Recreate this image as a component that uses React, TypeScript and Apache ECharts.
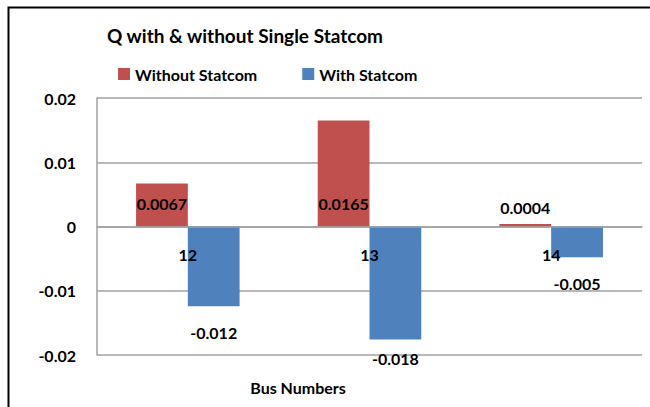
import React, { useEffect, useRef } from "react";
import * as echarts from "echarts";

const categories = ["12", "13", "14"];
const withoutStatcom = [0.0067, 0.0165, 0.0004];
const withStatcom = [-0.0124, -0.0176, -0.0048];
const withoutLabels = ["0.0067", "0.0165", "0.0004"];
const withLabels = ["-0.012", "-0.018", "-0.005"];
const seriesNames = ["Without Statcom", "With Statcom"];
const titleText = "Q with & without Single Statcom";
const xAxisTitle = "Bus Numbers";

const FONT = "Lato, 'Open Sans', sans-serif";

export default function App() {
  const ref = useRef<HTMLDivElement>(null);
  useEffect(() => {
    if (!ref.current) return;
    const chart = echarts.init(ref.current, null, { renderer: "svg" });
    const redData = withoutStatcom.map((v, i) => ({
      value: v,
      label:
        i === 2
          ? { position: "top", distance: 8, formatter: withoutLabels[i] }
          : { position: "insideBottom", distance: 15, formatter: withoutLabels[i] },
    }));
    const blueData = withStatcom.map((v, i) => ({
      value: v,
      label: { position: "bottom", distance: i === 1 ? 11 : 18, formatter: withLabels[i] },
    }));
    chart.setOption({
      animation: false,
      backgroundColor: "#ffffff",
      textStyle: { fontFamily: FONT },
      grid: { left: 97, right: 8, top: 98, bottom: 52, containLabel: false },
      legend: {
        left: 118,
        top: 66,
        padding: 0,
        itemWidth: 12,
        itemHeight: 12,
        itemGap: 45,
        icon: "rect",
        textStyle: { fontFamily: FONT, fontSize: 16, fontWeight: "bold", color: "#000" },
        data: seriesNames,
      },
      xAxis: {
        type: "category",
        data: categories,
        offset: -128.5,
        z: 5,
        axisLine: { onZero: false, lineStyle: { color: "#a0a0a0", width: 1.5 } },
        axisTick: { show: false },
        axisLabel: {
          margin: 20,
          fontFamily: FONT,
          fontSize: 16,
          fontWeight: "bold",
          color: "#000",
        },
      },
      yAxis: {
        type: "value",
        min: -0.02,
        max: 0.02,
        interval: 0.01,
        axisLine: { show: true, lineStyle: { color: "#a0a0a0", width: 1.5 } },
        axisTick: { show: false },
        splitLine: { lineStyle: { color: "#a0a0a0", width: 1.5 } },
        axisLabel: {
          margin: 21,
          fontFamily: FONT,
          fontSize: 16,
          fontWeight: "bold",
          color: "#000",
        },
      },
      series: [
        {
          name: seriesNames[0],
          type: "bar",
          data: redData,
          barGap: "0%",
          barCategoryGap: "43%",
          itemStyle: { color: "#C0504D" },
          label: {
            show: true,
            fontFamily: FONT,
            fontSize: 16,
            fontWeight: "bold",
            color: "#000",
          },
        },
        {
          name: seriesNames[1],
          type: "bar",
          data: blueData,
          barGap: "0%",
          barCategoryGap: "43%",
          itemStyle: { color: "#4F81BD" },
          label: {
            show: true,
            fontFamily: FONT,
            fontSize: 16,
            fontWeight: "bold",
            color: "#000",
          },
        },
      ],
      graphic: [
        {
          type: "rect",
          z: -1,
          shape: { x: 8.5, y: 7.5, width: 700, height: 500 },
          style: { fill: "none", stroke: "#000", lineWidth: 2 },
        },
        {
          type: "text",
          x: 245,
          y: 35,
          style: {
            text: titleText,
            fontFamily: FONT,
            fontSize: 19,
            fontWeight: "bold",
            fill: "#000",
            textAlign: "center",
            textVerticalAlign: "middle",
          },
        },
        {
          type: "text",
          x: 298,
          y: 387,
          style: {
            text: xAxisTitle,
            fontFamily: FONT,
            fontSize: 16,
            fontWeight: "bold",
            fill: "#000",
            textAlign: "center",
            textVerticalAlign: "middle",
          },
        },
      ],
    });
    return () => chart.dispose();
  }, []);
  return <div ref={ref} style={{ width: 650, height: 407, position: "absolute", left: 0, top: 0 }} />;
}
